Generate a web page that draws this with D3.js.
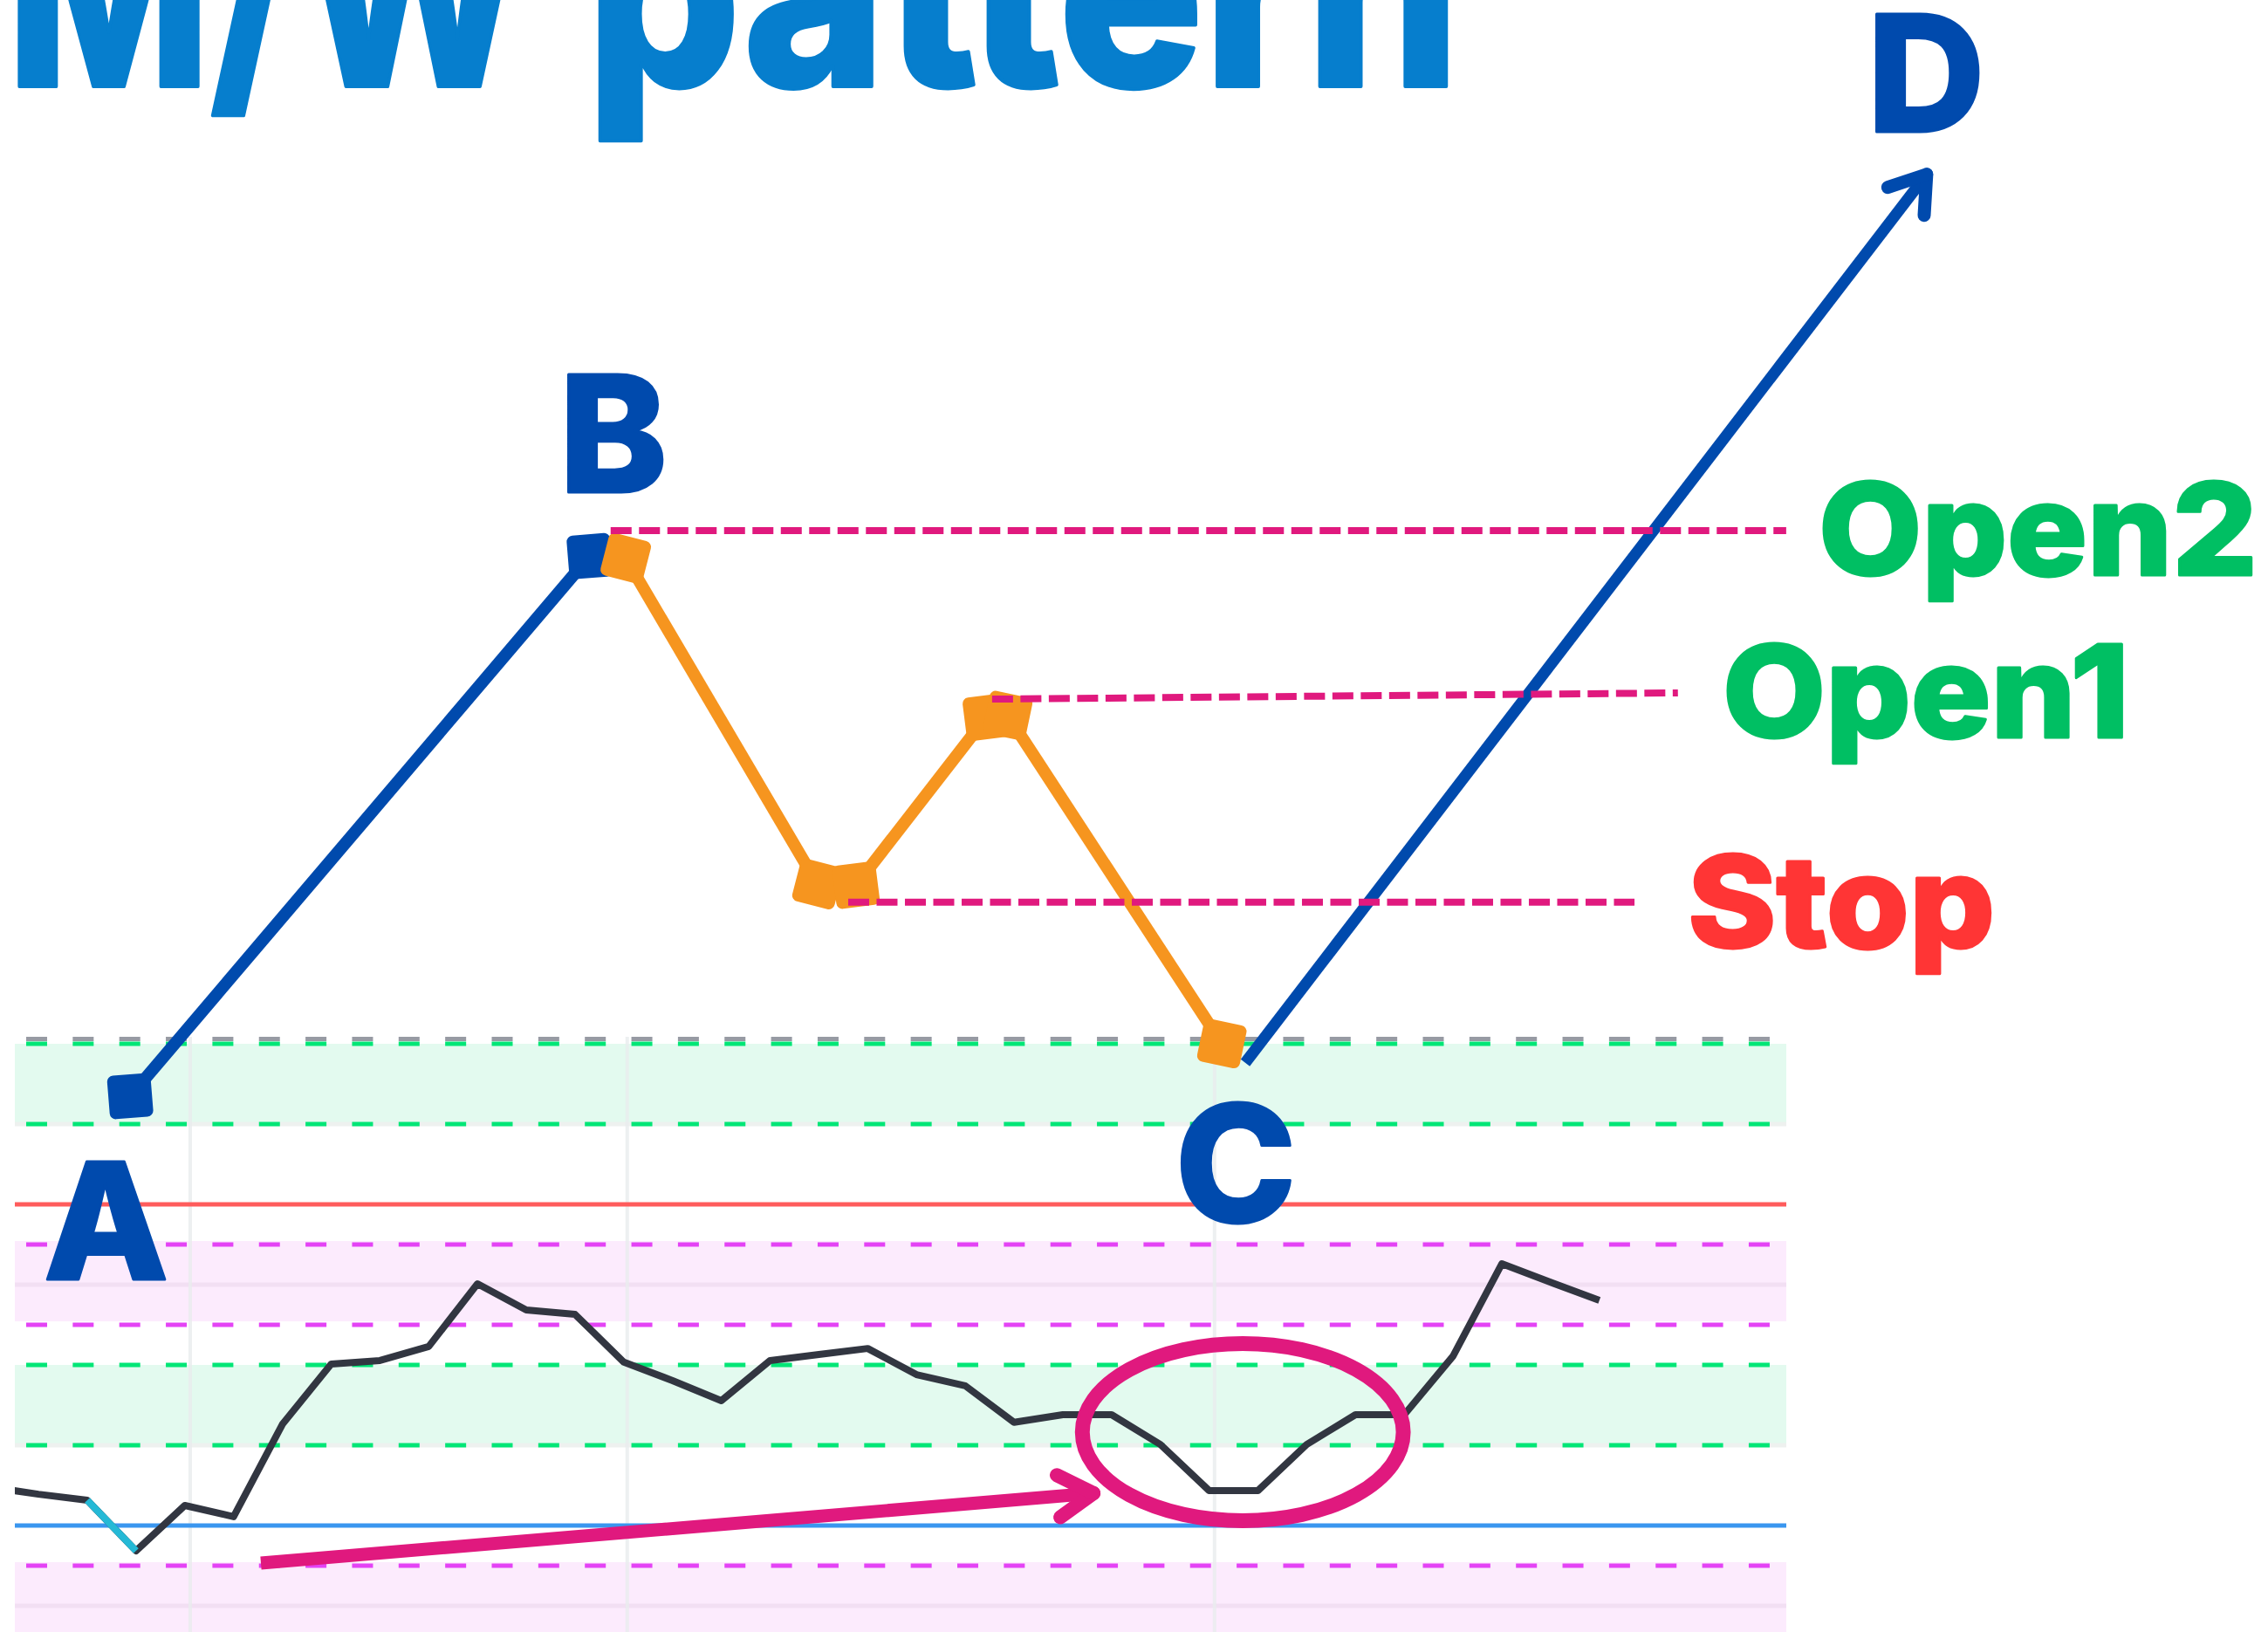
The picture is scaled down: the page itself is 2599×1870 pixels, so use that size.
<!DOCTYPE html>
<html>
<head>
<meta charset="utf-8">
<script src="https://cdn.jsdelivr.net/npm/d3@7"></script>
<style>
  html, body { margin: 0; padding: 0; background: #fff; }
  svg { display: block; }
</style>
</head>
<body>
<svg width="2599" height="1870"></svg>
<script>
// ---- lower panel: oscillator ----
const oscBars   = [-1, 0, 1, 2, 3, 4, 5, 6, 7, 8, 9, 10, 11, 12, 13, 14, 15, 16, 17, 18, 19, 20, 21, 22, 23, 24, 25, 26, 27, 28, 29, 30, 31, 32];
const oscValues = [9.6, 7.8, 6.3, -6.3, 5.0, 2.2, 25.2, 40.2, 41.1, 44.6, 60.2, 53.7, 52.6, 40.7, 36.1, 31.1, 41.1, 42.6, 44.1, 37.6, 34.8, 25.7, 27.6, 27.6, 20.2, 8.7, 8.7, 20.2, 27.6, 27.6, 42.2, 65.2, 60.6, 56.1];
const dipBars = [1, 2];              // part of the line drawn in cyan
const greenBands = [[20, 40], [100, 120]];
const pinkBands  = [[50, 70], [-30, -10]];
const faintLevels = [60, -20];
const redLevel = 80;
const blueLevel = 0;
const greyLevel = 121.2;
const gridBars = [3.11, 12.07, 24.11];

// highlight on the oscillator
const ringCenter = [24.69, 23.26];
const ringRadius = [3.29, 22.07];
const divergenceArrow = [[4.56, -9.35], [21.63, 8.04]];

// ---- upper panel: the pattern ----
const blueLegs   = [[[1.88, 100], [11.30, 195.5]]];
const orangeLegs = [
  [[12.04, 195.1], [15.97, 137.5]],
  [[16.76, 137.3], [19.43, 167.0]],
  [[19.87, 167.3], [24.26, 109.3]]
];
const breakout = [[24.74, 105.9], [38.71, 263.0]];
const levelLines = [
  {name: "Open2", from: [11.73, 200],   to: [35.83, 200]},
  {name: "Open1", from: [19.55, 170.2], to: [33.61, 171.3]},
  {name: "Stop",  from: [16.60, 134.3], to: [32.72, 134.3]}
];

const svg = d3.select("svg");
const W = 2599, H = 1870;
const left = 17, right = 2047;

const xK = d3.scaleLinear().domain([1, 30]).range([100, 1721]);
const yOsc = d3.scaleLinear().domain([0, 100]).range([1748, 1288]);
const yP = d3.scaleLinear().domain([100, 200]).range([1256, 608]);

svg.append("rect").attr("width", W).attr("height", H).attr("fill", "#fff");

// bands
let osc = svg.append("g");
osc.selectAll("rect.green").data(greenBands).enter().append("rect")
  .attr("x", left).attr("width", right - left)
  .attr("y", d => yOsc(d[1])).attr("height", d => yOsc(d[0]) - yOsc(d[1]))
  .attr("fill", "#E3FAEF");
osc.selectAll("rect.pink").data(pinkBands).enter().append("rect")
  .attr("x", left).attr("width", right - left)
  .attr("y", d => yOsc(d[1]) - 4).attr("height", d => yOsc(d[0]) - yOsc(d[1]))
  .attr("fill", "#FCEBFD");

osc.selectAll("line.faint").data(faintLevels).enter().append("line")
  .attr("x1", left).attr("x2", right)
  .attr("y1", d => yOsc(d)).attr("y2", d => yOsc(d))
  .attr("stroke", "#F2DFF3").attr("stroke-width", 5);

osc.selectAll("line.under").data(greenBands).enter().append("line")
  .attr("x1", left).attr("x2", right)
  .attr("y1", d => yOsc(d[0])).attr("y2", d => yOsc(d[0]))
  .attr("stroke", "#EEF1EF").attr("stroke-width", 5);

osc.selectAll("line.grid").data(gridBars).enter().append("line")
  .attr("x1", d => xK(d)).attr("x2", d => xK(d))
  .attr("y1", 1188).attr("y2", H)
  .attr("stroke", "#E9ECEE").attr("stroke-opacity", 0.8).attr("stroke-width", 4);

function dashed(level, color) {
  osc.append("line")
    .attr("x1", 30).attr("x2", right)
    .attr("y1", yOsc(level)).attr("y2", yOsc(level))
    .attr("stroke", color).attr("stroke-width", 5)
    .attr("stroke-dasharray", "24 29.35");
}
greenBands.forEach(b => { dashed(b[0], "#00E676"); dashed(b[1], "#00E676"); });
pinkBands.forEach(b => { dashed(b[0], "#E443F5"); dashed(b[1], "#E443F5"); });
dashed(greyLevel, "#979AA3");

osc.append("line").attr("x1", left).attr("x2", right)
  .attr("y1", yOsc(redLevel)).attr("y2", yOsc(redLevel))
  .attr("stroke", "#FF5C5C").attr("stroke-width", 5);
osc.append("line").attr("x1", left).attr("x2", right)
  .attr("y1", yOsc(blueLevel)).attr("y2", yOsc(blueLevel))
  .attr("stroke", "#3A96EF").attr("stroke-width", 5);

// oscillator line
svg.append("clipPath").attr("id", "panel")
  .append("rect").attr("x", left).attr("y", 0).attr("width", right - left).attr("height", H);

const oscData = oscBars.map((k, i) => ({k: k, v: oscValues[i]}));
const oscLine = d3.line().x(d => xK(d.k)).y(d => yOsc(d.v));

osc.append("path").datum(oscData)
  .attr("clip-path", "url(#panel)")
  .attr("d", oscLine)
  .attr("fill", "none").attr("stroke", "#323641").attr("stroke-width", 8)
  .attr("stroke-linejoin", "round");
osc.append("path").datum(oscData.filter(d => dipBars.includes(d.k)))
  .attr("d", oscLine)
  .attr("fill", "none").attr("stroke", "#25B9D6").attr("stroke-width", 8);

const pink = "#E0197E";
osc.append("ellipse")
  .attr("cx", xK(ringCenter[0])).attr("cy", yOsc(ringCenter[1]))
  .attr("rx", xK(ringCenter[0] + ringRadius[0]) - xK(ringCenter[0]))
  .attr("ry", yOsc(0) - yOsc(ringRadius[1]))
  .attr("fill", "none").attr("stroke", pink).attr("stroke-width", 17);

function arrowHead(g, p, q, len, spread, color, width) {
  let back = Math.atan2(p[1] - q[1], p[0] - q[0]);
  [-spread, spread].forEach(s => {
    let a = back + s * Math.PI / 180;
    g.append("line")
      .attr("x1", q[0]).attr("y1", q[1])
      .attr("x2", q[0] + len * Math.cos(a)).attr("y2", q[1] + len * Math.sin(a))
      .attr("stroke", color).attr("stroke-width", width).attr("stroke-linecap", "round");
  });
}

let ap = [xK(divergenceArrow[0][0]), yOsc(divergenceArrow[0][1])];
let aq = [xK(divergenceArrow[1][0]), yOsc(divergenceArrow[1][1])];
osc.append("line")
  .attr("x1", ap[0]).attr("y1", ap[1]).attr("x2", aq[0] - 6).attr("y2", aq[1] + 0.5)
  .attr("stroke", pink).attr("stroke-width", 15).attr("stroke-linecap", "butt");
arrowHead(osc, ap, aq, 47, 31, pink, 16);

// ---- pattern ----
const blue = "#004AAD", orange = "#F6951F";
let pat = svg.append("g");

function drawLegs(legs, color) {
  legs.forEach(leg => {
    let p = [xK(leg[0][0]), yP(leg[0][1])];
    let q = [xK(leg[1][0]), yP(leg[1][1])];
    pat.append("line")
      .attr("x1", p[0]).attr("y1", p[1]).attr("x2", q[0]).attr("y2", q[1])
      .attr("stroke", color).attr("stroke-width", 14);
    let ang = Math.atan2(q[1] - p[1], q[0] - p[0]) * 180 / Math.PI + 45;
    [p, q].forEach(c => {
      pat.append("rect")
        .attr("x", -25).attr("y", -25).attr("width", 50).attr("height", 50)
        .attr("rx", 7)
        .attr("transform", `translate(${c[0]},${c[1]}) rotate(${ang})`)
        .attr("fill", color);
    });
  });
}
drawLegs(blueLegs, blue);
drawLegs(orangeLegs, orange);

let bp = [xK(breakout[0][0]), yP(breakout[0][1])];
let bq = [xK(breakout[1][0]), yP(breakout[1][1])];
pat.append("line")
  .attr("x1", bp[0]).attr("y1", bp[1]).attr("x2", bq[0]).attr("y2", bq[1])
  .attr("stroke", blue).attr("stroke-width", 13).attr("stroke-linecap", "butt");
arrowHead(pat, bp, bq, 47, 34, blue, 15);

pat.selectAll("line.level").data(levelLines).enter().append("line")
  .attr("x1", d => xK(d.from[0])).attr("y1", d => yP(d.from[1]))
  .attr("x2", d => xK(d.to[0])).attr("y2", d => yP(d.to[1]))
  .attr("stroke", pink).attr("stroke-width", 8)
  .attr("stroke-dasharray", "24 8.5");

// ---- text ----
const font = "Inter, 'DejaVu Sans', sans-serif";
function label(txt, x, y, size, color, len, thick) {
  let t = svg.append("text")
    .attr("x", x).attr("y", y)
    .attr("font-family", font).attr("font-weight", 800)
    .attr("font-size", size).attr("fill", color)
    .attr("stroke", color).attr("stroke-width", thick || 3)
    .attr("stroke-linejoin", "round")
    .text(txt);
  if (len) t.attr("textLength", len).attr("lengthAdjust", "spacingAndGlyphs");
  return t;
}

label("M/W", 8, 99, 305, "#067ECD", 596, 4);
label("pattern", 672, 99, 305, "#067ECD", 1001, 4);

label("A", 50, 1466, 186, blue);
label("B", 641, 564, 186, blue);
label("C", 1347, 1400, 186, blue);
label("D", 2140, 151, 186, blue);

label("Open2", 2084, 659, 147, "#00BF63", 503);
label("Open1", 1974, 845, 147, "#00BF63", 466);
label("Stop", 1934, 1086, 147, "#FF3535", 352);
</script>
</body>
</html>
